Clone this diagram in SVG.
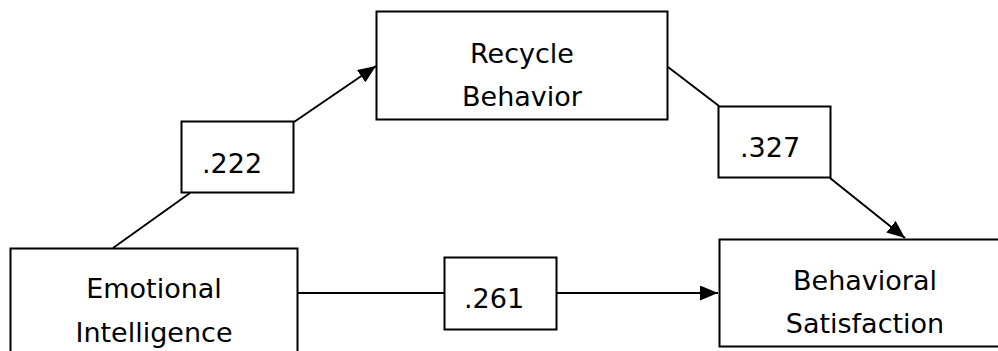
<svg xmlns="http://www.w3.org/2000/svg" width="998" height="351" viewBox="0 0 998 351">
  <style>
    .box { fill: #ffffff; stroke: #000000; stroke-width: 2; }
    .lbl { font-family: "DejaVu Sans", Verdana, sans-serif; font-size: 27px; fill: #000000; text-anchor: middle; }
    .edge { fill: none; stroke: #000000; stroke-width: 2; }
  </style>
  <defs>
    <marker id="arrow" markerUnits="userSpaceOnUse" markerWidth="18" markerHeight="15" refX="18" refY="7.5" orient="auto">
      <path d="M0,0 L18,7.5 L0,15 Z" fill="#000000"/>
    </marker>
  </defs>

  <rect width="998" height="351" fill="#ffffff"/>

  <!-- connectors -->
  <g id="connectors">
    <line class="edge" x1="113" y1="248" x2="190" y2="193"/>
    <line class="edge" x1="294" y1="122" x2="376" y2="66" marker-end="url(#arrow)"/>
    <line class="edge" x1="668" y1="67" x2="719" y2="106"/>
    <line class="edge" x1="830" y1="178" x2="905" y2="238" marker-end="url(#arrow)"/>
    <line class="edge" x1="298" y1="293" x2="444" y2="293"/>
    <line class="edge" x1="557" y1="293" x2="718" y2="293" marker-end="url(#arrow)"/>
  </g>

  <!-- nodes -->
  <g id="emotional-intelligence">
    <rect class="box" x="10.5" y="248.5" width="287" height="120"/>
    <text class="lbl" x="154" y="298">Emotional</text>
    <text class="lbl" x="154" y="342">Intelligence</text>
  </g>

  <g id="recycle-behavior">
    <rect class="box" x="376.5" y="11.5" width="291" height="108"/>
    <text class="lbl" x="522" y="63">Recycle</text>
    <text class="lbl" x="522" y="106">Behavior</text>
  </g>

  <g id="behavioral-satisfaction">
    <rect class="box" x="719.5" y="239.5" width="292" height="107"/>
    <text class="lbl" x="865" y="290">Behavioral</text>
    <text class="lbl" x="865" y="333">Satisfaction</text>
  </g>

  <!-- path coefficients -->
  <g id="coef-222">
    <rect class="box" x="181.5" y="121.5" width="112" height="71"/>
    <text class="lbl" x="232" y="173">.222</text>
  </g>

  <g id="coef-327">
    <rect class="box" x="718.5" y="106.5" width="112" height="71"/>
    <text class="lbl" x="770" y="157">.327</text>
  </g>

  <g id="coef-261">
    <rect class="box" x="444.5" y="257.5" width="112" height="72"/>
    <text class="lbl" x="494" y="308">.261</text>
  </g>
</svg>
